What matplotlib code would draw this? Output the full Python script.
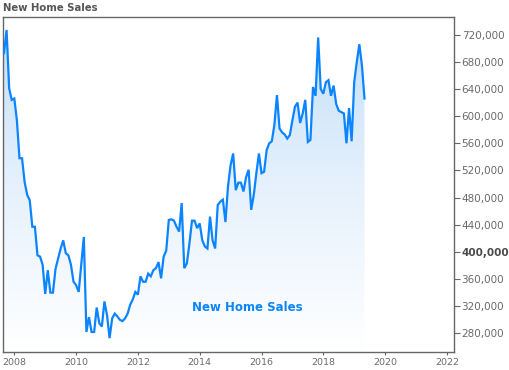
import numpy as np
import matplotlib
matplotlib.use("Agg")
import matplotlib.pyplot as plt
from matplotlib.patches import Polygon
from matplotlib.colors import LinearSegmentedColormap
from matplotlib.ticker import FixedLocator, FuncFormatter

# ---- data -------------------------------------------------------------
title = "New Home Sales"
series_label = "New Home Sales"
first_month = (2007, 9)          # Sep 2007, monthly observations
sales_thousands = [
    693, 727, 641, 624,                                   # 2007 Sep-Dec
    626, 594, 538, 538, 503, 484, 476, 437, 437, 395, 393, 381,   # 2008
    338, 373, 340, 340, 375, 390, 405, 417, 398, 395, 381, 356,   # 2009
    351, 341, 381, 422, 282, 304, 282, 282, 318, 295, 290, 327,   # 2010
    307, 273, 302, 309, 305, 300, 298, 302, 309, 322, 330, 341,   # 2011
    337, 364, 356, 356, 368, 364, 373, 376, 385, 361, 393, 402,   # 2012
    447, 448, 446, 437, 430, 472, 376, 383, 412, 446, 446, 435,   # 2013
    442, 417, 408, 405, 452, 417, 405, 469, 474, 477, 444, 497,   # 2014
    528, 545, 491, 502, 502, 489, 510, 521, 462, 484, 516, 545,   # 2015
    516, 518, 550, 560, 563, 587, 631, 582, 576, 573, 567, 572,   # 2016
    594, 614, 620, 590, 604, 624, 562, 565, 643, 630, 716, 640,   # 2017
    633, 650, 653, 630, 645, 618, 608, 606, 604, 560, 612, 563,   # 2018
    650, 680, 706, 675, 626,                                   # 2019 Jan-May
]
y_ticks = [280000, 320000, 360000, 400000, 440000, 480000,
           520000, 560000, 600000, 640000, 680000, 720000]
x_ticks = [2008, 2010, 2012, 2014, 2016, 2018, 2020, 2022]
highlight_tick = 400000

# ---- derived ----------------------------------------------------------
values = np.array(sales_thousands, dtype=float) * 1000
t = first_month[0] + (first_month[1] - 1) / 12 + np.arange(len(values)) / 12

line_color = "#0a84ff"
text_gray = "#6a6a6a"
spine_gray = "#666666"

fig = plt.figure(figsize=(5.10, 3.70), dpi=100)
ax = fig.add_axes([3 / 510, 1 - 352 / 370, 451 / 510, 335 / 370])

xmin, xmax = 2007.634, 2022.23
ymin, ymax = 252500, 746100
ax.set_xlim(xmin, xmax)
ax.set_ylim(ymin, ymax)

# gradient area under the line
cmap = LinearSegmentedColormap.from_list(
    "grad", [(1.0, 1.0, 1.0), (0.90, 0.945, 0.99), (0.76, 0.87, 0.975)])
grad = np.linspace(0, 1, 256).reshape(-1, 1)
im = ax.imshow(grad, extent=[xmin, xmax, ymin, ymax], origin="lower",
               aspect="auto", cmap=cmap, zorder=1, interpolation="bicubic")
verts = np.column_stack([np.r_[t[0], t, t[-1]], np.r_[ymin, values, ymin]])
poly = Polygon(verts, closed=True, facecolor="none", edgecolor="none",
               transform=ax.transData)
ax.add_patch(poly)
im.set_clip_path(poly)

ax.plot(t, values, color=line_color, lw=1.6, zorder=3, solid_joinstyle="miter")

ax.text(2015.53, 318800, series_label, color=line_color, fontsize=8.5,
        fontweight="bold", ha="center", va="center", zorder=4)

# axes styling
for s in ax.spines.values():
    s.set_color(spine_gray)
    s.set_linewidth(1.0)

ax.yaxis.tick_right()
ax.yaxis.set_major_locator(FixedLocator(y_ticks))
ax.yaxis.set_major_formatter(FuncFormatter(lambda v, p: f"{int(round(v)):,}"))
ax.xaxis.set_major_locator(FixedLocator(x_ticks))
ax.xaxis.set_major_formatter(FuncFormatter(lambda v, p: f"{int(round(v))}"))
ax.tick_params(axis="y", which="major", direction="out", length=4, width=0.8,
               color=spine_gray, labelcolor=text_gray, labelsize=7.5, pad=1.5,
               right=True, left=False)
ax.tick_params(axis="x", which="major", direction="out", length=2.5, width=0.8,
               color=spine_gray, labelcolor=text_gray, labelsize=6.8, pad=2)
for lbl, v in zip(ax.get_yticklabels(), y_ticks):
    if v == highlight_tick:
        lbl.set_fontweight("bold")
        lbl.set_color("#4a4a4a")

fig.text(3 / 510, 1 - 8 / 370, title, fontsize=7.3, fontweight="bold",
         color="#555555", ha="left", va="center")

fig.savefig("out.png", dpi=100)
